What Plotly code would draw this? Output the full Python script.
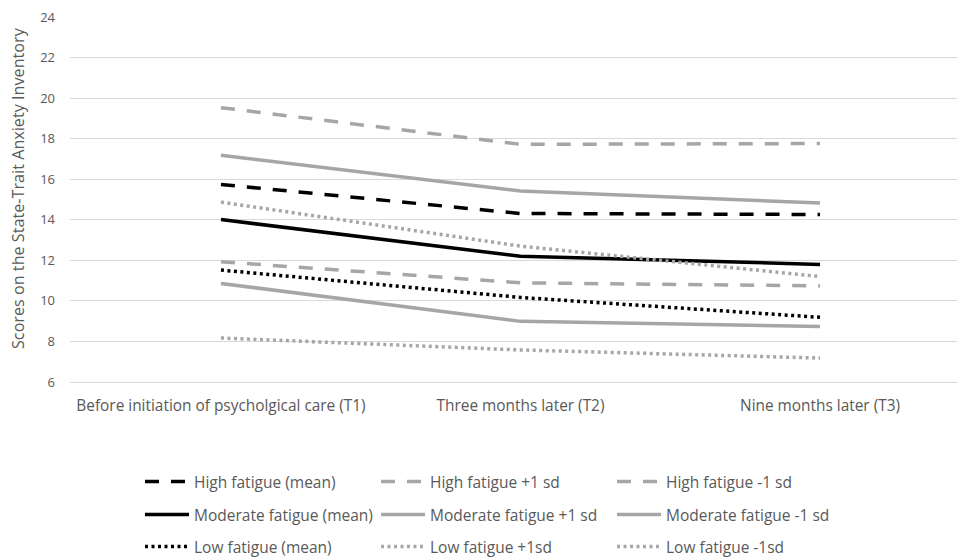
import plotly.graph_objects as go

categories = ["Before initiation of psycholgical care (T1)", "Three months later (T2)", "Nine months later (T3)"]
y_title = "Scores on the State-Trait Anxiety Inventory"

high_mean = [15.74, 14.31, 14.26]
high_plus = [19.53, 17.72, 17.76]
high_minus = [11.93, 10.89, 10.74]
mod_mean = [14.01, 12.20, 11.80]
mod_plus = [17.18, 15.42, 14.83]
mod_minus = [10.86, 8.99, 8.74]
low_mean = [11.52, 10.17, 9.19]
low_plus = [14.87, 12.70, 11.20]
low_minus = [8.17, 7.58, 7.18]

BLACK = "#000000"
GRAY = "#a6a6a6"
DASH = "14px,12px"
DOT = "3px,3.5px"

series = [
    ("High fatigue (mean)", high_mean, BLACK, DASH, "legend"),
    ("High fatigue +1 sd", high_plus, GRAY, DASH, "legend"),
    ("High fatigue -1 sd", high_minus, GRAY, DASH, "legend"),
    ("Moderate fatigue (mean)", mod_mean, BLACK, "solid", "legend2"),
    ("Moderate fatigue +1 sd", mod_plus, GRAY, "solid", "legend2"),
    ("Moderate fatigue -1 sd", mod_minus, GRAY, "solid", "legend2"),
    ("Low fatigue (mean)", low_mean, BLACK, DOT, "legend3"),
    ("Low fatigue +1sd", low_plus, GRAY, DOT, "legend3"),
    ("Low fatigue -1sd", low_minus, GRAY, DOT, "legend3"),
]

fig = go.Figure()
for name, vals, color, dash, lg in series:
    fig.add_trace(go.Scatter(
        x=[0, 1, 2], y=vals, mode="lines", name=name,
        line=dict(color=color, width=3.5, dash=dash),
        legend=lg,
    ))

FONT = "Open Sans"
TXT = "#595959"
W, H = 957, 550

leg_common = dict(orientation="h", xanchor="left", yanchor="middle",
                  font=dict(family=FONT, size=15.5, color=TXT),
                  entrywidth=177, entrywidthmode="pixels",
                  bgcolor="rgba(0,0,0,0)", tracegroupgap=0, itemwidth=44,
                  xref="container", yref="container")

fig.update_layout(
    width=W, height=H,
    margin=dict(l=62, r=0, t=9, b=176, autoexpand=False),
    paper_bgcolor="white", plot_bgcolor="white",
    font=dict(family=FONT, size=13, color=TXT),
    xaxis=dict(
        tickmode="array", tickvals=[0, 1, 2], ticktext=categories,
        range=[-0.504, 2.484], showgrid=False, zeroline=False,
        showline=True, linecolor="#d9d9d9", linewidth=1,
        ticks="", ticklabelstandoff=10,
        tickfont=dict(family=FONT, size=15.4, color=TXT),
        fixedrange=True,
    ),
    yaxis=dict(
        range=[6, 24], dtick=2, tick0=6,
        showgrid=True, gridcolor="#d9d9d9",
        gridwidth=1, zeroline=False, showline=False, ticks="",
        ticklabelstandoff=14, ticklabeloverflow="allow",
        tickfont=dict(family=FONT, size=13, color=TXT),
    ),
    annotations=[dict(
        text=y_title, textangle=-90, xref="paper", yref="paper",
        x=0, y=0.5315, xanchor="center", yanchor="middle", xshift=-52,
        showarrow=False, font=dict(family=FONT, size=16.2, color=TXT),
    )],
    legend=dict(leg_common, x=132 / W, y=1 - 474 / H),
    legend2=dict(leg_common, x=132 / W, y=1 - 507 / H),
    legend3=dict(leg_common, x=132 / W, y=1 - 539 / H),
    showlegend=True,
)

fig.write_html("out.html")
